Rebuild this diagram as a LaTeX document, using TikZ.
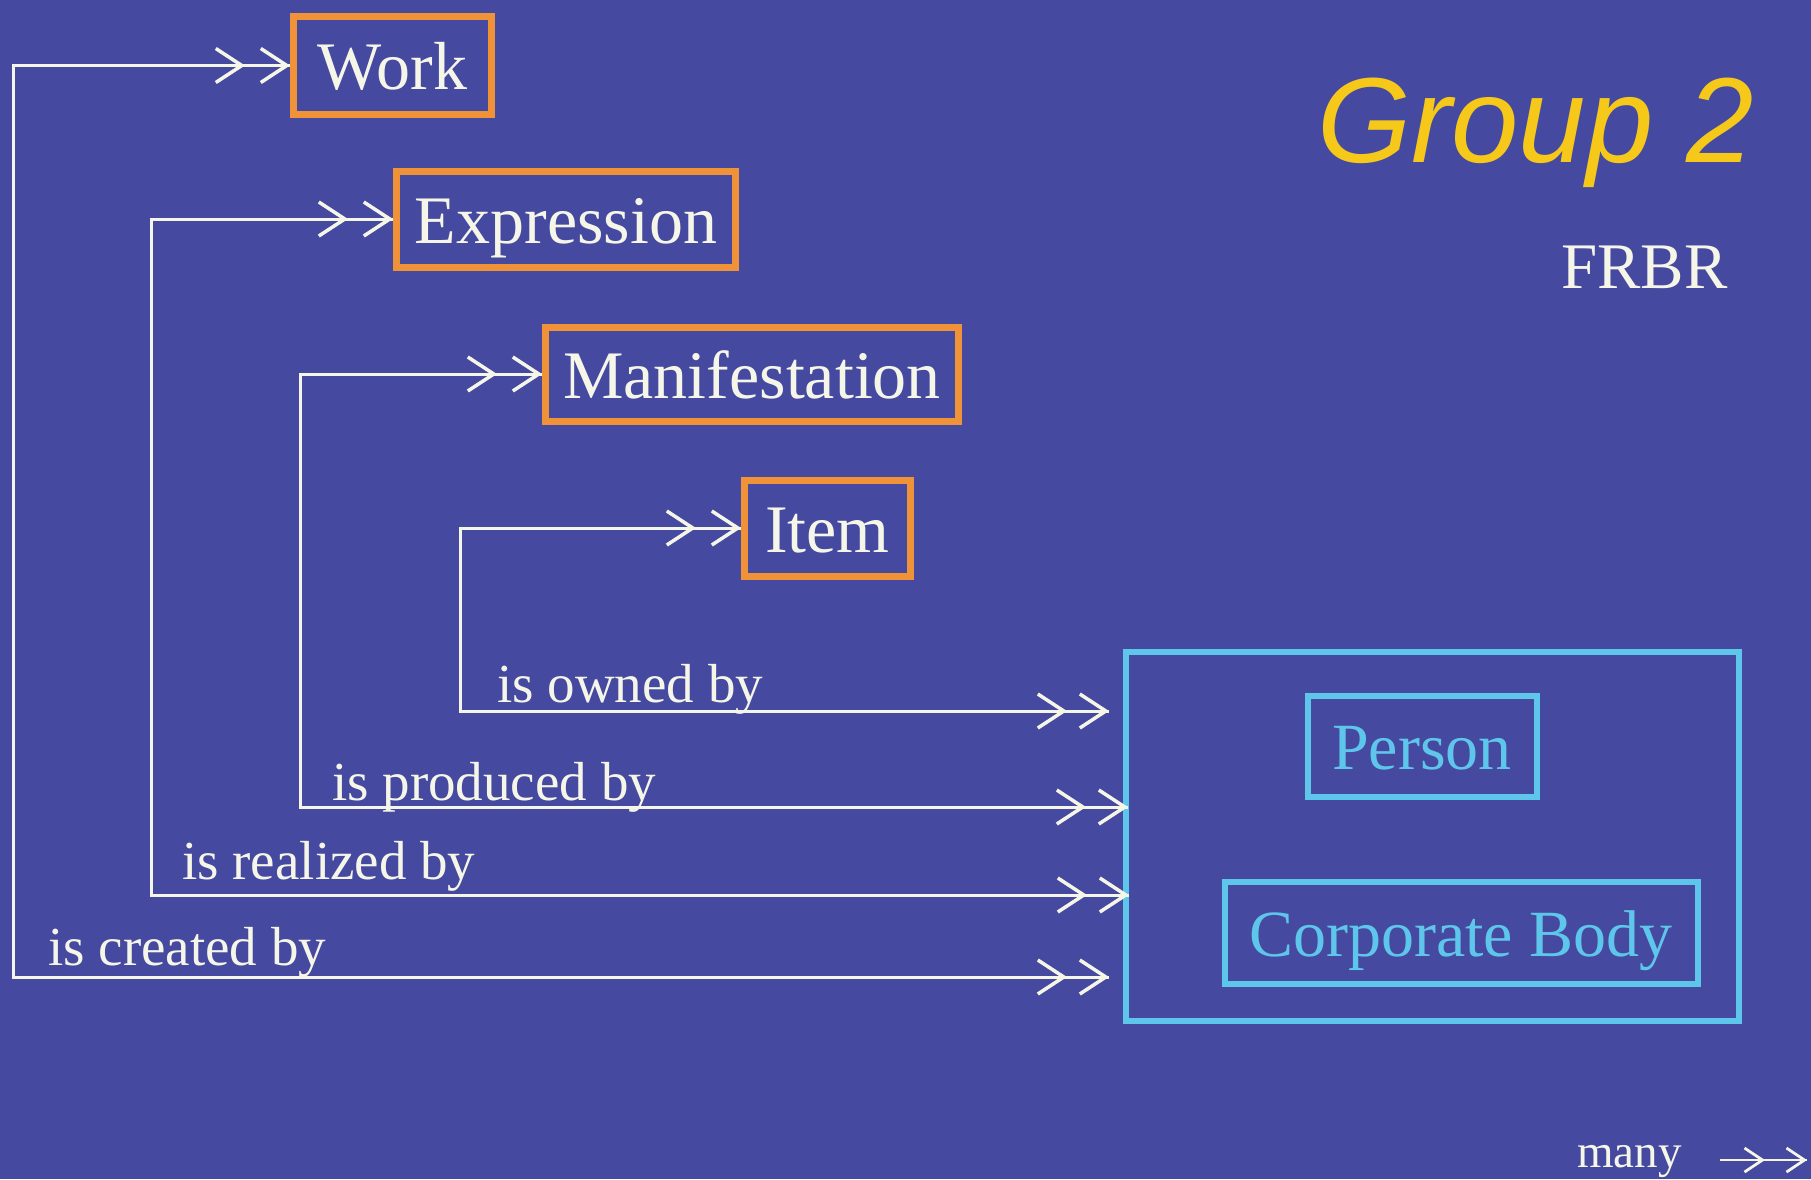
\documentclass[tikz,border=0pt]{standalone}
\usepackage{fontspec}
\setmainfont{Liberation Serif}
\newfontfamily\grpfont{Liberation Sans}
\usetikzlibrary{arrows.meta,decorations.markings}
\definecolor{bgblue}{RGB}{69,74,160}
\definecolor{orangeb}{RGB}{240,146,55}
\definecolor{cyanb}{RGB}{95,198,235}
\definecolor{creamw}{RGB}{246,246,232}
\definecolor{goldy}{RGB}{246,200,25}
\tikzset{
  ent/.style={draw=orangeb, line width=7pt, text=creamw, inner sep=0pt,
    text height=50pt, text depth=2pt,
    font=\fontsize{68}{80}\selectfont},
  agent/.style={draw=cyanb, line width=6pt, text=cyanb, inner sep=0pt,
    text height=49pt, text depth=2pt,
    font=\fontsize{66}{78}\selectfont},
  lbl/.style={text=creamw, inner sep=0pt, anchor=base west,
    font=\fontsize{55}{62}\selectfont},
  conn/.style={draw=creamw, line width=3pt,
    >={Straight Barb[length=26pt,width=34pt,line width=3.5pt]}},
  tiny conn/.style={draw=creamw, line width=2.5pt,
    >={Straight Barb[length=18pt,width=24pt,line width=2.8pt]}},
  manyend/.style={postaction={decorate, decoration={markings,
      mark=at position -#1 with {\arrow{>}},
      mark=at position 1 with {\arrow{>}}}}},
  manystart/.style={postaction={decorate, decoration={markings,
      mark=at position 0 with {\arrowreversed{>}},
      mark=at position #1 with {\arrowreversed{>}}}}},
}
\begin{document}
\begin{tikzpicture}[x=1pt,y=-1pt]
\fill[bgblue] (0,0) rectangle (1811,1179);
\useasboundingbox (0,0) rectangle (1811,1179);

% Group 1 entities
\node[ent, minimum width=198pt, minimum height=98pt] (work) at (392.5,65.5) {Work};
\node[ent, minimum width=339pt, minimum height=96pt] (expr) at (566,219) {Expression};
\node[ent, minimum width=413pt, minimum height=94pt] (mani) at (752,374) {Manifestation};
\node[ent, minimum width=166pt, minimum height=96pt] (item) at (827.5,528) {Item};

% Group 2 entities
\node[agent, minimum width=613pt, minimum height=369pt] (grp) at (1432,836) {};
\node[agent, minimum width=229pt, minimum height=101pt] (person) at (1422,746) {Person};
\node[agent, minimum width=473pt, minimum height=102pt] (corp) at (1461,933) {Corporate Body};

% titles
\node[text=goldy, inner sep=0pt, anchor=base west,
  font=\grpfont\itshape\fontsize{121}{133}\selectfont] (title) at (1317,162) {Group 2};
\node[text=creamw, inner sep=0pt, anchor=base west,
  font=\fontsize{65}{73}\selectfont] (frbr) at (1561,288) {FRBR};

% corners and free ends
\coordinate (k1) at (13,977);
\coordinate (k2) at (151,895);
\coordinate (k3) at (300,807);
\coordinate (k4) at (460,711);
\coordinate (e1) at (1109,977);
\coordinate (e2) at (1129,895);
\coordinate (e3) at (1128,807);
\coordinate (e4) at (1109,711);

% connectors
\draw[conn, manystart=42pt, manyend=45pt] (e1) -- (k1) |- (work.west);
\draw[conn, manystart=42pt, manyend=45pt] (e2) -- (k2) |- (expr.west);
\draw[conn, manystart=42pt, manyend=45pt] (e3) -- (k3) |- (mani.west);
\draw[conn, manystart=42pt, manyend=45pt] (e4) -- (k4) |- (item.west);

% relationship labels
\node[lbl] (lcre) at (48,965) {is created by};
\node[lbl] (lrea) at (182,879) {is realized by};
\node[lbl] (lpro) at (332,800) {is produced by};
\node[lbl] (lown) at (497,702) {is owned by};

% legend
\node[text=creamw, inner sep=0pt, anchor=base west,
  font=\fontsize{47}{54}\selectfont] (many) at (1577,1167) {many};
\coordinate (m1) at (1720,1160);
\coordinate (m2) at (1807,1160);
\draw[tiny conn, manyend=42pt] (m1) -- (m2);
\end{tikzpicture}
\end{document}
